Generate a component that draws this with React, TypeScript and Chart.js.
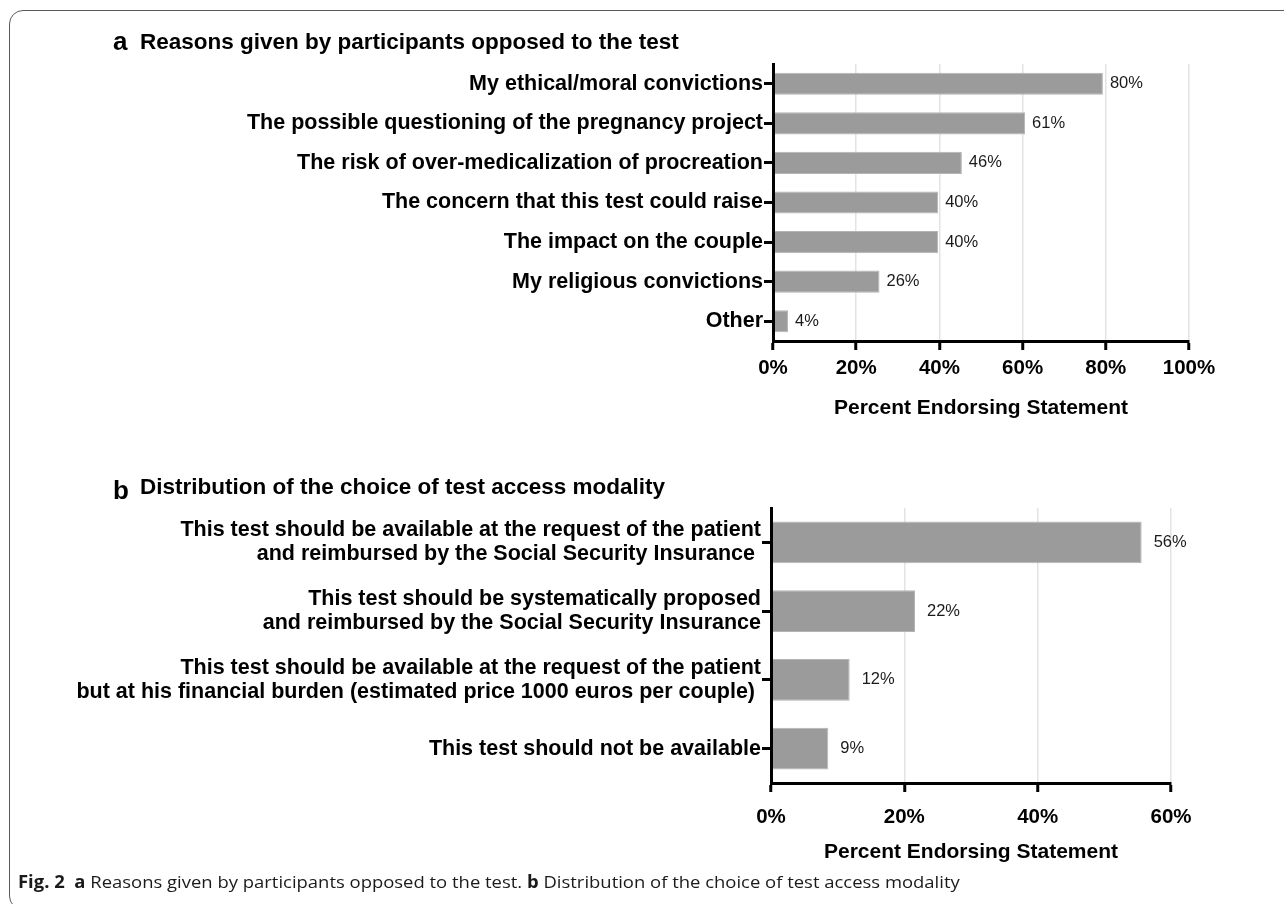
import React, { useEffect, useRef } from "react";
import { Chart, registerables } from "chart.js";

Chart.register(...registerables);

const FONT = "'Liberation Sans', Arial, Helvetica, sans-serif";

// Panel a
const reasonLabels = [
  "My ethical/moral convictions",
  "The possible questioning of the pregnancy project",
  "The risk of over-medicalization of procreation",
  "The concern that this test could raise",
  "The impact on the couple",
  "My religious convictions",
  "Other",
];
const reasonValues = [79.3, 60.6, 45.4, 39.7, 39.7, 25.6, 3.6];
const reasonValueLabels = ["80%", "61%", "46%", "40%", "40%", "26%", "4%"];
const reasonTicks = [0, 20, 40, 60, 80, 100];

// Panel b
const modalityLabels = [
  [
    "This test should be available at the request of the patient",
    "and reimbursed by the Social Security Insurance ",
  ],
  [
    "This test should be systematically proposed",
    "and reimbursed by the Social Security Insurance",
  ],
  [
    "This test should be available at the request of the patient",
    "but at his financial burden (estimated price 1000 euros per couple) ",
  ],
  ["This test should not be available"],
];
const modalityValues = [55.6, 21.6, 11.8, 8.6];
const modalityValueLabels = ["56%", "22%", "12%", "9%"];
const modalityTicks = [0, 20, 40, 60];

const axisTitle = "Percent Endorsing Statement";

function makeValueLabelPlugin(labels: string[], offset: number) {
  return {
    id: "valueLabels",
    afterDatasetsDraw(chart: any) {
      const { ctx } = chart;
      const meta = chart.getDatasetMeta(0);
      ctx.save();
      ctx.font = `16.5px ${FONT}`;
      ctx.fillStyle = "#1a1a1a";
      ctx.textAlign = "left";
      ctx.textBaseline = "middle";
      meta.data.forEach((bar: any, i: number) => {
        ctx.fillText(labels[i], bar.x + offset, bar.y);
      });
      ctx.restore();
    },
  };
}

interface PanelProps {
  labels: any[];
  values: number[];
  valueLabels: string[];
  ticks: number[];
  max: number;
  top: number;
  height: number;
  padTop: number;
  padRight: number;
  yWidth: number;
  xHeight: number;
  tickPad: number;
  titlePad: number;
  barPct: number;
  labelOffset: number;
}

function Panel(p: PanelProps) {
  const ref = useRef<HTMLCanvasElement | null>(null);
  useEffect(() => {
    if (!ref.current) return;
    const chart = new Chart(ref.current, {
      type: "bar",
      data: {
        labels: p.labels,
        datasets: [
          {
            data: p.values,
            backgroundColor: "#9b9b9b",
            borderColor: "#b4b4b4",
            borderWidth: 1,
            barPercentage: p.barPct,
            categoryPercentage: 1,
          },
        ],
      },
      options: {
        indexAxis: "y",
        responsive: false,
        animation: false,
        events: [],
        layout: {
          padding: { top: p.padTop, right: p.padRight, left: 0, bottom: 0 },
        },
        plugins: {
          legend: { display: false },
          tooltip: { enabled: false },
        },
        scales: {
          x: {
            type: "linear",
            min: 0,
            max: p.max,
            afterBuildTicks: (scale: any) => {
              scale.ticks = p.ticks.map((v) => ({ value: v }));
            },
            ticks: {
              callback: (v: any) => `${v}%`,
              font: { family: FONT, size: 20.5, weight: "bold" },
              color: "#000",
              padding: p.tickPad,
              maxRotation: 0,
              autoSkip: false,
            },
            grid: {
              color: "#e3e3e3",
              lineWidth: 1.5,
              tickColor: "#000",
              tickWidth: 3,
              tickLength: 9,
              drawTicks: true,
            },
            border: { display: true, color: "#000", width: 3, z: 1 },
            title: {
              display: true,
              text: axisTitle,
              color: "#000",
              font: { family: FONT, size: 21, weight: "bold", lineHeight: 1.2 },
              padding: { top: 0, bottom: p.titlePad },
            },
            afterFit: (scale: any) => {
              scale.height = p.xHeight;
            },
          },
          y: {
            type: "category",
            ticks: {
              font: { family: FONT, size: 21.5, weight: "bold", lineHeight: 1.11 },
              color: "#000",
              padding: 1,
              autoSkip: false,
            },
            grid: {
              drawOnChartArea: false,
              drawTicks: true,
              offset: false,
              tickLength: 9,
              tickWidth: 3,
              tickColor: "#000",
            },
            border: { display: true, color: "#000", width: 3, z: 1 },
            afterFit: (scale: any) => {
              scale.width = p.yWidth;
            },
          },
        },
      } as any,
      plugins: [makeValueLabelPlugin(p.valueLabels, p.labelOffset)],
    });
    return () => chart.destroy();
  }, []);
  return (
    <canvas
      ref={ref}
      width={1284}
      height={p.height}
      style={{ position: "absolute", left: 0, top: p.top }}
    />
  );
}

export default function App() {
  const titleStyle: React.CSSProperties = {
    position: "absolute",
    fontFamily: FONT,
    fontWeight: "bold",
    color: "#000",
    whiteSpace: "nowrap",
  };
  return (
    <div
      style={{
        position: "absolute",
        left: 0,
        top: 0,
        width: 1284,
        height: 904,
        overflow: "hidden",
        background: "#fff",
      }}
    >
      <div
        style={{
          position: "absolute",
          left: 9,
          top: 10,
          width: 1400,
          height: 900,
          border: "1.5px solid #5a5a5a",
          borderRadius: 14,
          boxSizing: "border-box",
        }}
      />
      <Panel
        labels={reasonLabels}
        values={reasonValues}
        valueLabels={reasonValueLabels}
        ticks={reasonTicks}
        max={100}
        top={0}
        height={440}
        padTop={64}
        padRight={95}
        yWidth={773}
        xHeight={99}
        tickPad={6}
        titlePad={19}
        barPct={0.56}
        labelOffset={7}
      />
      <Panel
        labels={modalityLabels}
        values={modalityValues}
        valueLabels={modalityValueLabels}
        ticks={modalityTicks}
        max={60}
        top={440}
        height={440}
        padTop={68}
        padRight={113}
        yWidth={771}
        xHeight={97}
        tickPad={13}
        titlePad={15}
        barPct={0.61}
        labelOffset={12}
      />
      <div style={{ ...titleStyle, left: 113, top: 28, fontSize: 26, lineHeight: "26px" }}>a</div>
      <div style={{ ...titleStyle, left: 140, top: 31, fontSize: 22.5, lineHeight: "22.5px" }}>
        Reasons given by participants opposed to the test
      </div>
      <div style={{ ...titleStyle, left: 113, top: 477, fontSize: 26, lineHeight: "26px" }}>b</div>
      <div style={{ ...titleStyle, left: 140, top: 476, fontSize: 22.5, lineHeight: "22.5px" }}>
        Distribution of the choice of test access modality
      </div>
      <div
        style={{
          position: "absolute",
          left: 18,
          top: 873,
          fontFamily: "'Open Sans', 'Noto Sans', sans-serif",
          fontSize: 17,
          lineHeight: "17px",
          color: "#1a1a1a",
          whiteSpace: "nowrap",
          transform: "scaleX(1.085)",
          transformOrigin: "left top",
        }}
      >
        <b>Fig. 2</b>&nbsp; <b>a</b> Reasons given by participants opposed to the test. <b>b</b> Distribution of the
        choice of test access modality
      </div>
    </div>
  );
}
